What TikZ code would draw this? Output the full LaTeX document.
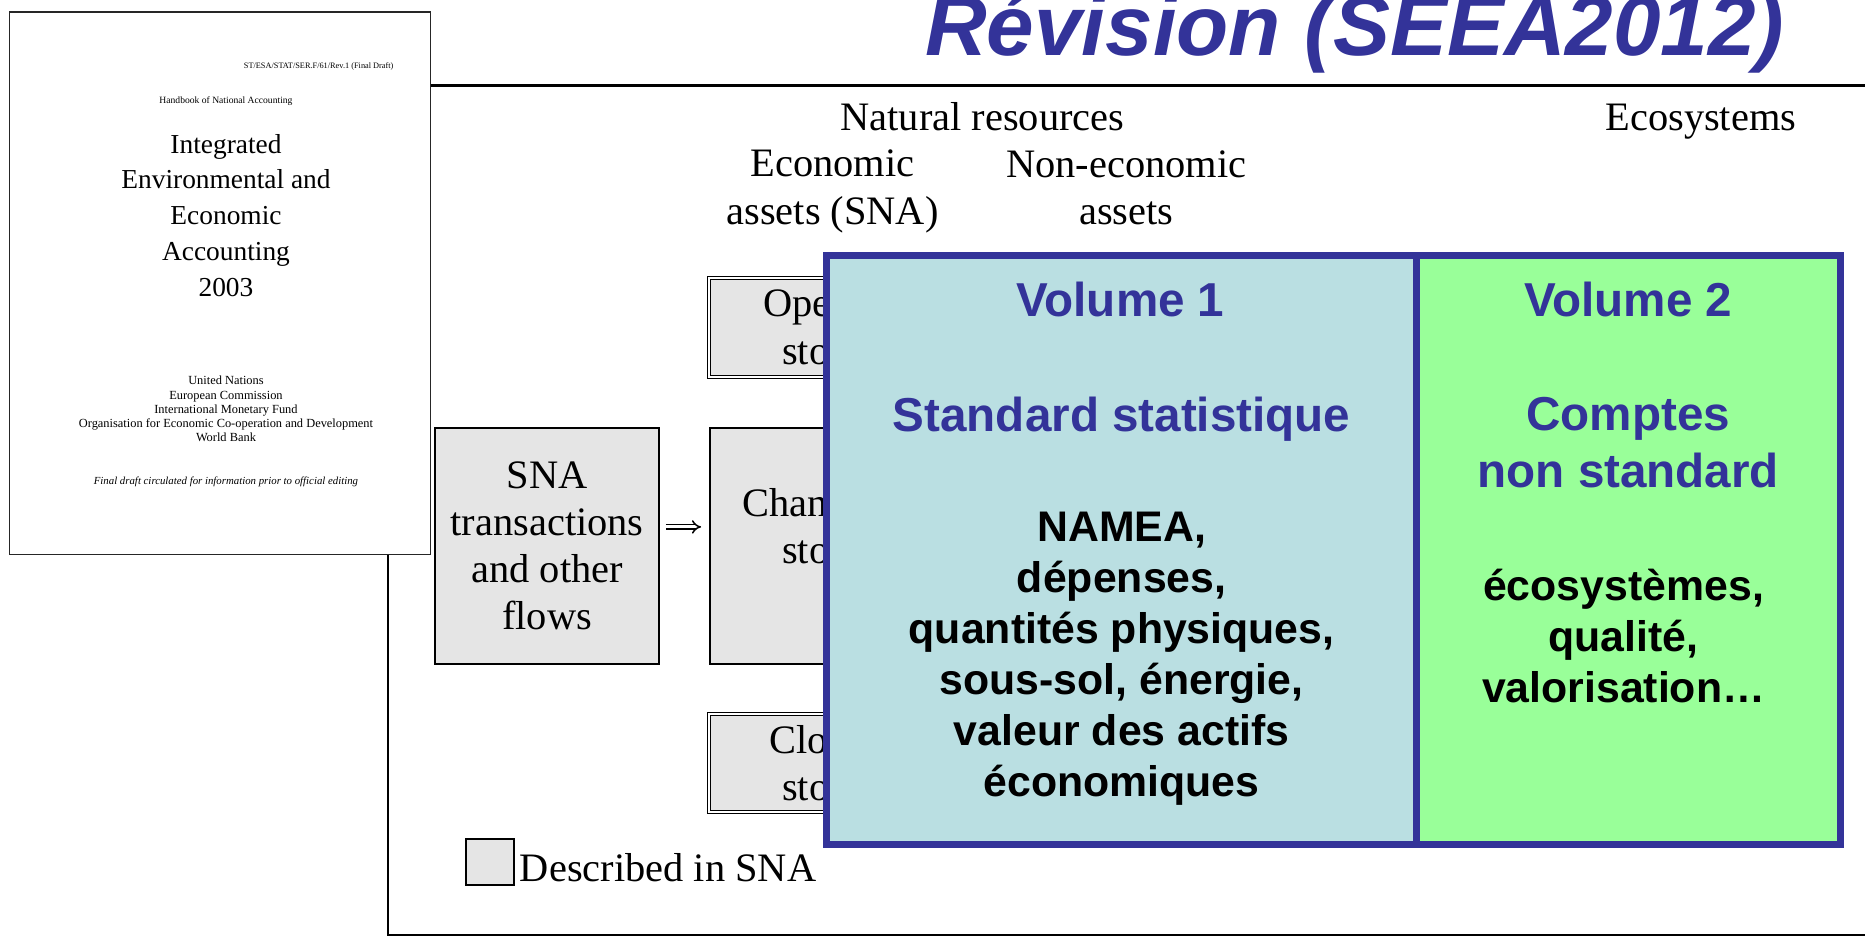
\documentclass[tikz,border=0pt]{standalone}
\usepackage{fontspec}
\setmainfont{Liberation Serif}
\setsansfont{Liberation Sans}
\usetikzlibrary{arrows.meta}
\definecolor{seeablue}{HTML}{333399}
\definecolor{volonefill}{HTML}{BADFE2}
\definecolor{voltwofill}{HTML}{99FF99}
\definecolor{snagray}{HTML}{E5E5E5}
\newcommand{\setfs}[2]{\fontsize{#1}{#2}\selectfont}
\newcommand{\U}{1.1894pt}
\begin{document}
\begin{tikzpicture}[x=1.1894pt,y=-1.1894pt,
  boxsize/.style 2 args={minimum width=#1*\U, minimum height=#2*\U},
  frameline/.style={draw=black, line width=1.7pt},
  docpage/.style={draw=black!85, line width=1.5pt, fill=white, inner sep=0pt},
  doctext/.style={inner sep=0pt, align=center},
  serifhead/.style={font=\setfs{40.4}{47.6}, align=center, inner sep=0pt},
  snabox/.style={draw=black, line width=2pt, fill=snagray, inner sep=0pt, align=center, font=\setfs{40.4}{46.8}},
  stockbox/.style={draw=black, double=white, double distance=1.8pt, line width=1.2pt, fill=snagray, inner sep=0pt, align=center, font=\setfs{40.4}{47.6}},
  impliesarrow/.style={double=white, double distance=3pt, line width=1.5pt, -{Implies[scale=1.5]}, shorten <=6pt, shorten >=8pt},
  volbox/.style={draw=seeablue, line width=7pt, inner sep=0pt},
  voltitle/.style={text=seeablue, font=\sffamily\bfseries\setfs{47.6}{57.1}, align=center, inner sep=0pt},
  vollist/.style={text=black, font=\sffamily\bfseries\setfs{42.8}{51.1}, align=center, inner sep=0pt}
]
\useasboundingbox (0,0) rectangle (1568,789);

% outer frame
\draw[frameline] (326,72) rectangle (1590,786);
\draw[line width=2.4pt] (326,72) -- (1590,72);

% handbook cover
\node[docpage, boxsize={354}{456}] (doc) at (185,238) {};
\node[anchor=base east, inner sep=0pt, font=\setfs{8.3}{10}] (docref) at (331,58) {ST/ESA/STAT/SER.F/61/Rev.1 (Final Draft)};
\node[anchor=base, inner sep=0pt, font=\setfs{9.6}{11}] (dochb) at (190,87) {Handbook of National Accounting};
\node[doctext, font=\setfs{27.4}{35.7}] (doctitle) at (190,181) {Integrated\\Environmental and\\Economic\\Accounting\\2003};
\node[doctext, font=\setfs{12.4}{14.3}] (docorgs) at (190,344) {United Nations\\European Commission\\International Monetary Fund\\Organisation for Economic Co-operation and Development\\World Bank};
\node[anchor=base, inner sep=0pt, font=\itshape\setfs{10.8}{13}] (docnote) at (190,407) {Final draft circulated for information prior to official editing};

% column headers
\node[serifhead, anchor=base] (natres) at (826,109.5) {Natural resources};
\node[serifhead] (ecoassets) at (700,161) {Economic\\assets (SNA)};
\node[serifhead] (noneco) at (947,158) {Non-economic\\assets};
\node[serifhead, anchor=base] (ecosys) at (1430,109.5) {Ecosystems};

% SNA boxes
\node[snabox, boxsize={188}{198}] (sna) at (460,459) {SNA\\transactions\\and other\\flows};
\node[stockbox, boxsize={207.4}{83.2}] (opening) at (700,275.4) {Opening\\stocks};
\node[snabox, boxsize={206}{198}] (changes) at (700,459) {};
\node[serifhead] (changestxt) at (700,442.5) {Changes in\\stocks};
\node[stockbox, boxsize={207.4}{82.3}] (closing) at (700,641.5) {Closing\\stocks};
\coordinate (arrowlevel) at (0,443);
\draw[impliesarrow] (sna.east |- arrowlevel) -- (changes.west |- arrowlevel);

% legend
\node[snabox, boxsize={40}{39}] (legendbox) at (412,724.5) {};
\node[serifhead, anchor=base west] (legendtxt) at (437,741) {Described in SNA};

% volumes
\node[volbox, fill=volonefill, boxsize={496}{495}] (vol1) at (943,462.5) {};
\node[volbox, fill=voltwofill, boxsize={356}{495}] (vol2) at (1369,462.5) {};
\node[voltitle, anchor=base] (vol1title) at (942,266) {Volume 1};
\node[voltitle, anchor=base] (vol1std) at (943,363) {Standard statistique};
\node[vollist] (vol1list) at (943,554) {NAMEA,\\dépenses,\\quantités physiques,\\sous-sol, énergie,\\valeur des actifs\\économiques};
\node[voltitle, anchor=base] (vol2title) at (1369,266) {Volume 2};
\node[voltitle] (vol2std) at (1369,372) {Comptes\\non standard};
\node[vollist] (vol2list) at (1365,535) {écosystèmes,\\qualité,\\valorisation…};

% title
\node[anchor=base, inner sep=0pt, text=seeablue, font=\sffamily\bfseries\itshape\setfs{85.4}{100}] (title) at (1139,47) {Révision (SEEA2012)};
\end{tikzpicture}
\end{document}
